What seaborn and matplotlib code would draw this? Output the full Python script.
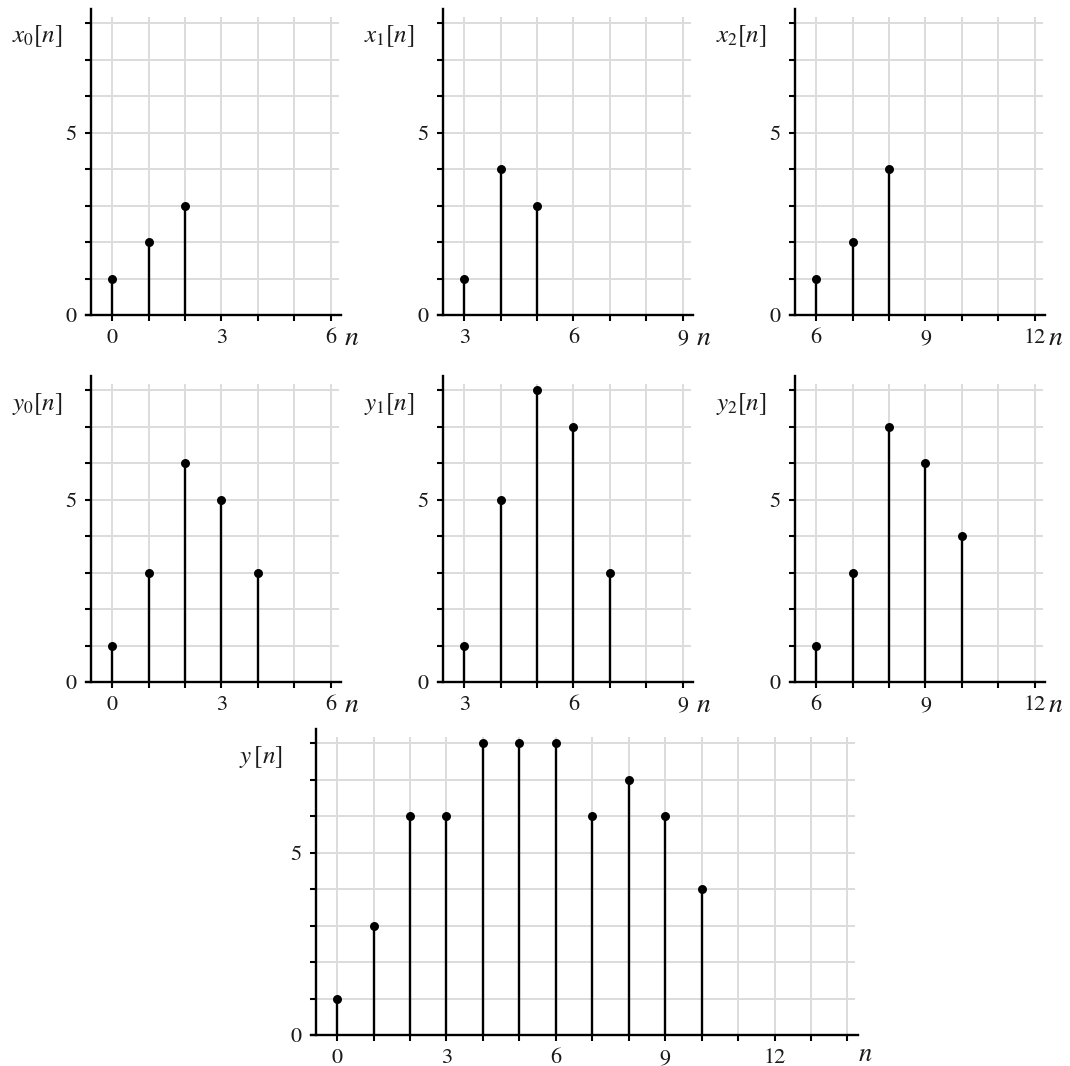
import numpy as np
import pandas as pd
import matplotlib
matplotlib.use("Agg")
import matplotlib.pyplot as plt
import seaborn as sns

# Input blocks, their individual outputs and the overlap-added total
n_x0 = [0, 1, 2]
x0_vals = [1, 2, 3]
n_x1 = [3, 4, 5]
x1_vals = [1, 4, 3]
n_x2 = [6, 7, 8]
x2_vals = [1, 2, 4]

n_y0 = [0, 1, 2, 3, 4]
y0_vals = [1, 3, 6, 5, 3]
n_y1 = [3, 4, 5, 6, 7]
y1_vals = [1, 5, 8, 7, 3]
n_y2 = [6, 7, 8, 9, 10]
y2_vals = [1, 3, 7, 6, 4]

n_y = [0, 1, 2, 3, 4, 5, 6, 7, 8, 9, 10]
y_vals = [1, 3, 6, 6, 8, 8, 8, 6, 7, 6, 4]

ylabels = [r"$x_0[n]$", r"$x_1[n]$", r"$x_2[n]$",
           r"$y_0[n]$", r"$y_1[n]$", r"$y_2[n]$", r"$y\,[n]$"]
xtick_labels_top = [[0, 3, 6], [3, 6, 9], [6, 9, 12]]
xtick_labels_bottom = [0, 3, 6, 9, 12]
ytick_labels = [0, 5]

sns.set_style("white")
plt.rcParams["font.family"] = ["STIXGeneral", "Liberation Serif", "DejaVu Serif"]
plt.rcParams["mathtext.fontset"] = "stix"

FW, FH = 1070, 1066
U = 36.45  # pixels per unit on both axes
YTOP = 8.18
INK = "#1a1a1a"

fig = plt.figure(figsize=(FW / 100, FH / 100), dpi=100)


def make_axes(spine_px, base_px, x_first, x_last):
    lo = x_first - 0.58
    hi = x_last + 0.22
    w = (hi - lo) * U
    h = YTOP * U
    ax = fig.add_axes([spine_px / FW, (FH - base_px) / FH, w / FW, h / FH])
    ax.set_xlim(lo, hi)
    ax.set_ylim(0, YTOP)
    return ax


def stem_panel(ax, n, vals, label, x_first, x_last, labeled_ticks, xlab_x):
    df = pd.DataFrame({"n": n, "v": vals})
    ax.vlines(df["n"], 0, df["v"], color="black", lw=1.7, zorder=3)
    sns.scatterplot(data=df, x="n", y="v", ax=ax, color="black", s=42,
                    edgecolor="black", linewidth=0, zorder=4, legend=False)
    ticks = list(range(x_first, x_last + 1))
    ax.set_xticks(ticks)
    ax.set_xticklabels([str(t) if t in labeled_ticks else "" for t in ticks])
    yt = list(range(0, 9))
    ax.set_yticks(yt)
    ax.set_yticklabels([str(t) if t in ytick_labels else "" for t in yt])
    ax.grid(True, color="#dcdcdc", lw=1.4)
    ax.set_axisbelow(True)
    for s in ["top", "right"]:
        ax.spines[s].set_visible(False)
    ax.spines["left"].set_bounds(0, 8.4)
    ax.spines["bottom"].set_bounds(x_first - 0.72, x_last + 0.28)
    for s in ["left", "bottom"]:
        ax.spines[s].set_color("black")
        ax.spines[s].set_linewidth(1.7)
        ax.spines[s].set_zorder(5)
    ax.tick_params(axis="both", which="major", direction="out", length=4.5,
                   width=1.5, color="black", labelsize=16, pad=6,
                   labelcolor=INK)
    ax.tick_params(axis="x", pad=5)
    ax.tick_params(axis="y", left=True)
    ax.tick_params(axis="x", bottom=True)
    ax.set_xlabel("")
    ax.set_ylabel("")
    ax.text(xlab_x, 0.934, label, transform=ax.transAxes, ha="right",
            va="center", fontsize=18, color=INK)


# top two rows: inputs and their responses
spines_px = [91, 443, 795]
top_sets = [(n_x0, x0_vals), (n_x1, x1_vals), (n_x2, x2_vals)]
mid_sets = [(n_y0, y0_vals), (n_y1, y1_vals), (n_y2, y2_vals)]
for row, (base, sets, offset) in enumerate([(315, top_sets, 0), (682, mid_sets, 3)]):
    for col in range(3):
        first = xtick_labels_top[col][0]
        last = xtick_labels_top[col][-1]
        ax = make_axes(spines_px[col], base, first, last)
        n, v = sets[col]
        stem_panel(ax, n, v, ylabels[offset + col], first, last,
                   xtick_labels_top[col], -0.115)
        ax.text(1.022, -0.08, r"$n$", transform=ax.transAxes, ha="left",
                va="center", fontsize=20, color=INK)

# bottom: summed output
ax = make_axes(316, 1035, 0, 14)
stem_panel(ax, n_y, y_vals, ylabels[6], 0, 14, xtick_labels_bottom, -0.062)
ax.text(1.004, -0.066, r"$n$", transform=ax.transAxes, ha="left",
        va="center", fontsize=19, color=INK)

fig.savefig("out.png", dpi=100, facecolor="white")
